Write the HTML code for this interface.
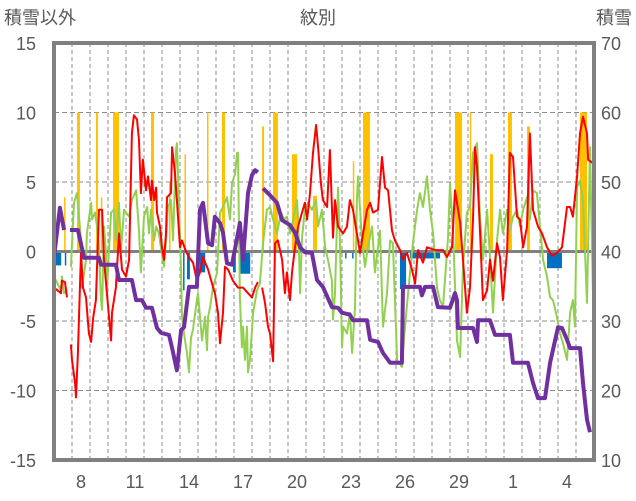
<!DOCTYPE html>
<html><head><meta charset="utf-8"><style>
body{margin:0;background:#fff;}
svg{display:block;font-family:"Liberation Sans","Noto Sans CJK JP",sans-serif;}
</style></head><body>
<svg id="chart" width="636" height="501" viewBox="0 0 636 501">
<text x="4" y="24" font-size="18" fill="#595959">積雪以外</text>
<text x="318" y="24" font-size="18" fill="#595959" text-anchor="middle">紋別</text>
<text x="632" y="24" font-size="18" fill="#595959" text-anchor="end">積雪</text>
<g id="grid"></g>
<g id="bars"></g>
<g id="lines"></g>
<g id="axes"></g>
</svg>
<script>
const xLabels=["8","11","14","17","20","23","26","29","1","4"];
const xLabelIdx=[1,4,7,10,13,16,19,22,25,28];
const leftTicks=[15,10,5,0,-5,-10,-15];
const rightTicks=[70,60,50,40,30,20,10];
const yellowStart=[0.56,1.28,2.33,2.6,3.28,5.39,6.39,7.25,8.5,9.33,11.56,12.17,13.22,14.39,16.6,17.17,22.28,23.1,24.22,25.22,26.28,29.22];
const yellowEnd=[0.6,1.44,2.44,2.65,3.61,5.56,6.45,7.3,8.56,9.5,11.67,12.44,13.5,14.61,16.67,17.56,22.67,23.17,24.39,25.44,26.44,29.61];
const yellowVal=[3.9,10,10,3.9,10,10,5,7,10,10,9,10,7,4,6.5,10,10,10,7,10,9,10];
const blueStart=[0,0.6,7.17,7.39,8.1,9.94,10.33,16.17,16.56,19.22,19.78,27.39];
const blueEnd=[0.4,0.67,7.22,7.55,8.4,10.1,10.9,16.22,16.6,19.56,21.45,28.22];
const blueVal=[-1,-1,-2.8,-2,-1.5,-1.5,-1.6,-0.5,-0.5,-2.7,-0.5,-1.2];
const redSeries=[[0,-2.6],[.39,-3.0],[.44,-2.1],[.61,-2.2],[.72,-3.3],null,[.94,-6.7],[1,-7.8],[1.17,-9.5],[1.22,-10.5],[1.33,-7.3],[1.5,-0.1],[1.61,-2.6],[1.78,-3.3],[1.94,-5.9],[2.06,-6.5],[2.17,-4.8],[2.33,-3.5],[2.5,3.0],[2.67,3.0],[2.78,-0.6],[2.94,-3.0],[3.17,-6.4],[3.22,-4.4],[3.44,-2.6],[3.61,1.3],[3.78,-1.3],[4,-1.8],[4.17,-0.6],[4.33,8.5],[4.44,9.8],[4.61,9.5],[4.72,8.0],[4.83,4.2],[4.94,6.6],[5.11,4.4],[5.22,5.4],[5.39,3.7],[5.44,5.1],[5.56,3.7],[5.67,4.6],[5.72,2.8],[5.89,1.8],[6,0.3],[6.11,-0.6],[6.22,1.3],[6.28,3.9],[6.5,4.2],[6.56,7.5],[6.72,5.6],[6.83,3.7],[7,0.3],[7.11,0.8],[7.33,0],[7.5,-0.4],[7.72,-0.8],[7.94,-2.1],[8.11,-1.5],[8.28,-0.4],[8.56,-1.3],[8.78,-2.3],[8.94,-3.0],[9.11,-4.4],[9.22,-6.6],[9.39,-4.4],[9.5,-1.1],[9.67,-1.3],[9.94,-2.1],[10.22,-2.6],[10.5,-2.6],[10.78,-3.0],[11,-3.3],[11.17,-2.6],[11.33,-2.2],null,[11.56,-2.6],[11.72,-3.7],[11.89,-5.4],[12,-5.9],[12.17,-7.9],[12.28,0.6],[12.44,0.8],[12.67,-0.6],[12.83,-3.0],[12.94,-1.5],[13.11,-3.5],[13.22,-1.5],[13.39,0.3],[13.56,1.8],[13.78,2.8],[13.94,3.5],[14.06,2.3],[14.22,4.2],[14.39,7.1],[14.56,9.1],[14.67,7.5],[14.83,4.9],[14.94,3.7],[15.17,3.2],[15.33,7.3],[15.5,1.0],[15.61,3.7],[15.78,1.8],[16.06,1.3],[16.28,1.8],[16.44,3.7],[16.61,3.0],[16.83,1.3],[17,-0.1],[17.17,1.3],[17.39,3.0],[17.56,3.5],[17.72,2.8],[18,3.0],[18.22,6.8],[18.39,4.6],[18.56,4.4],[18.78,1.5],[18.94,0.8],[19.22,0.1],[19.39,-0.6],[19.61,-0.1],[19.89,-1.3],[20.06,-2.3],[20.22,0.1],[20.5,-0.8],[20.72,0.3],[21.17,0.1],[21.61,0.1],[21.83,-0.4],[22.11,0.3],[22.28,4.4],[22.39,3.5],[22.56,2.1],[22.72,-0.6],[22.94,-4.4],[23.11,-2.6],[23.28,2.3],[23.39,7.5],[23.5,6.1],[23.67,1.3],[23.83,-3.5],[24.06,-2.8],[24.22,-0.6],[24.39,-2.1],[24.61,0.6],[24.78,-0.4],[24.94,-3.5],[25.17,0.1],[25.33,7.1],[25.5,6.8],[25.72,2.5],[25.89,2.3],[26.06,0.3],[26.28,1.8],[26.44,8.5],[26.61,3.0],[26.89,1.8],[27.11,1.3],[27.39,0.3],[27.67,-0.3],[27.94,-0.1],[28.22,0.3],[28.5,3.2],[28.67,3.2],[28.83,2.5],[29.06,5.4],[29.22,8.5],[29.39,9.7],[29.61,8.5],[29.67,6.6],[29.89,6.4],[30,6.4]];
const greenSeries=[[0,-1.8],[.39,-2.8],[.44,-1.8],[.56,-3.0],[.72,-2.8],null,[.94,-1.1],[1.11,3.5],[1.28,4.2],[1.39,2.5],[1.5,0.8],[1.56,-2.6],[1.78,-0.6],[1.83,1.3],[2.06,3.5],[2.11,2.3],[2.28,2.8],[2.39,1.8],[2.5,0.3],[2.61,-3.5],[2.67,-4.2],[2.78,1.8],[2.89,-0.1],[2.94,-3.0],[3.06,0.3],[3.17,2.8],[3.33,3.0],[3.44,0.8],[3.61,3.5],[3.72,0.1],[3.89,3.0],[4,2.8],[4.17,2.5],[4.33,3.7],[4.56,4.4],[4.72,1.5],[4.83,-1.5],[5,2.5],[5.17,3.2],[5.28,1.3],[5.39,3.0],[5.56,0.8],[5.67,1.8],[5.83,1.3],[5.94,0.3],[6.11,-1.1],[6.22,0.8],[6.33,3.2],[6.5,3.7],[6.61,0.8],[6.78,7.3],[6.83,7.8],[6.94,3.7],[7.06,-1.5],[7.11,-4.7],[7.22,-5.9],[7.39,-7.3],[7.5,-8.7],[7.61,-6.2],[7.72,-5.6],[7.94,-3.5],[8,-3.0],[8.11,-4.7],[8.22,-6.4],[8.39,-4.7],[8.5,-7.1],[8.56,-4.7],[8.67,-4.0],[8.83,-2.6],[9.06,-1.5],[9.22,2.8],[9.39,3.2],[9.61,3.9],[9.78,2.3],[9.89,4.9],[10.06,5.6],[10.17,7.1],[10.22,7.1],[10.33,-3.3],[10.44,-6.9],[10.5,-5.4],[10.61,-7.8],[10.72,-5.4],[10.78,-8.7],[10.89,-7.8],[11.06,-4.4],[11.28,-2.8],[11.44,-2.3],[11.61,0.6],[11.83,3.0],[12,3.2],[12.17,2.3],[12.39,1.3],[12.61,2.8],[12.78,2.3],[12.94,2.5],[13.11,1.3],[13.33,2.5],[13.5,3.7],[13.56,2.3],[13.67,-3.0],[13.78,1.0],[13.94,3.0],[14.11,3.5],[14.33,3.0],[14.56,3.7],[14.67,1.8],[14.89,3.0],[15.06,0.3],[15.22,-0.6],[15.44,-2.1],[15.5,-4.9],[15.61,-3.0],[15.78,4.6],[15.89,0.6],[16,-6.9],[16.06,-5.4],[16.28,-5.9],[16.44,-4.4],[16.56,-7.3],[16.72,-4.0],[16.83,3.7],[16.89,5.4],[17.11,0.8],[17.28,-1.1],[17.44,0.3],[17.67,1.8],[17.83,-1.5],[18.11,1.5],[18.28,-5.4],[18.5,-3.0],[18.67,0.8],[18.83,0.6],[19.06,-7.8],[19.33,-8.3],[19.5,-5.4],[19.67,-3.0],[19.94,0.6],[20.17,3.0],[20.33,4.2],[20.5,3.2],[20.72,5.4],[20.89,3.0],[21.06,1.3],[21.28,-2.6],[21.44,-3.5],[21.61,-4.0],[21.89,1.0],[22,4.9],[22.17,1.3],[22.39,-6.4],[22.56,-7.6],[22.72,-1.1],[22.94,2.8],[23.11,3.2],[23.28,7.1],[23.5,7.8],[23.67,2.3],[23.83,-0.6],[24.06,3.0],[24.22,-0.4],[24.39,-4.4],[24.61,0.8],[24.78,3.0],[24.94,1.3],[25.17,3.0],[25.33,1.5],[25.5,2.5],[25.72,3.0],[25.89,1.8],[26.06,3.0],[26.28,3.9],[26.44,2.3],[26.61,4.4],[26.83,4.2],[27,1.8],[27.17,-0.6],[27.39,-1.8],[27.56,-3.3],[27.72,-3.5],[27.94,-4.7],[28.11,-5.9],[28.28,-6.6],[28.5,-7.8],[28.67,-4.4],[28.83,-3.5],[28.94,-5.4],[29.06,4.6],[29.22,5.1],[29.39,3.7],[29.61,-3.7],[29.78,7.5],[29.94,-2.8]];
const snowSeries=[[0,39.2],[.33,46.3],[.56,43.1],null,[.89,43.1],[1.33,43.1],[1.67,39.1],[2.5,39.1],[2.61,38.1],[3.44,38.1],[3.61,35.9],[4.33,35.9],[4.56,33.0],[4.89,33.0],[5.11,31.9],[5.44,31.9],[5.72,29.0],[5.94,28.3],[6.39,28.0],[6.56,26.1],[6.83,22.9],[7.06,28.7],[7.22,29.1],[7.5,34.9],[7.94,34.9],[8.11,46.0],[8.28,47.0],[8.56,41.2],[8.78,40.9],[8.94,45.0],[9.22,44.1],[9.39,42.7],[9.61,38.3],[9.89,38.1],[10.33,44.1],[10.5,38.8],[10.78,48.4],[11,51.0],[11.17,51.7],[11.33,51.4],null,[11.61,49.1],[12,48.1],[12.39,47.0],[12.67,44.5],[13.11,43.8],[13.39,42.7],[13.67,40.6],[13.94,39.9],[14.33,39.8],[14.61,35.9],[14.94,34.9],[15.44,32.0],[15.78,31.9],[16,31.2],[16.44,30.9],[16.61,30.1],[17.39,30.1],[17.56,27.3],[18,27.0],[18.28,25.4],[18.67,24.0],[19.33,24.0],[19.39,34.9],[20.33,34.9],[20.44,33.7],[20.61,34.9],[21.06,34.9],[21.33,32.0],[22,31.9],[22.28,34.0],[22.39,33.0],[22.44,29.0],[23.28,29.0],[23.5,27.0],[23.56,30.1],[24.22,30.1],[24.5,28.0],[25.33,28.0],[25.5,24.0],[26.33,24.0],[26.61,21.1],[26.89,18.9],[27.28,18.9],[27.56,24.0],[28,29.1],[28.22,29.0],[28.5,27.3],[28.67,26.1],[29.22,26.1],[29.39,21.1],[29.61,15.8],[29.78,14.0]];

const NS="http://www.w3.org/2000/svg";
const X0=54,X1=594,Y0=43,Y1=460,DAYS=30;
function xs(t){return X0+(X1-X0)*t/DAYS;}
function yl(v){return Y1-(v+15)/30*(Y1-Y0);}
function yr(v){return Y1-(v-10)/60*(Y1-Y0);}
function mk(tag,attrs,parent){const e=document.createElementNS(NS,tag);for(const k in attrs)e.setAttribute(k,attrs[k]);parent.appendChild(e);return e;}
const grid=document.getElementById('grid'),bars=document.getElementById('bars'),lines=document.getElementById('lines'),axes=document.getElementById('axes');
for(let d=1;d<DAYS;d++){const l=mk('line',{x1:xs(d),x2:xs(d),y1:Y0,y2:Y1,stroke:'#8c8c8c','stroke-width':1,'stroke-dasharray':'4,3'},grid);

}
leftTicks.forEach((v,i)=>{if(v!==0&&Math.abs(v)!==15){const l=mk('line',{x1:X0,x2:X1,y1:yl(v),y2:yl(v),stroke:'#8c8c8c','stroke-width':1,'stroke-dasharray':'5,3'},grid);

}
const t=mk('text',{x:36,y:yl(v)+7,'font-size':18,fill:'#595959','text-anchor':'end'},axes);t.textContent=v;


const r=mk('text',{x:601,y:yr(rightTicks[i])+7,'font-size':18,fill:'#595959'},axes);r.textContent=rightTicks[i];

});
xLabels.forEach((s,i)=>{const t=mk('text',{x:xs(xLabelIdx[i]+0.5),y:488,'font-size':18,fill:'#595959','text-anchor':'middle'},axes);t.textContent=s;

});
function drawBars(st,en,val,color,name){for(let i=0;i<st.length;i++){const xa=xs(st[i]),xb=Math.max(xs(en[i]),xa+1.5);const ya=yl(Math.max(0,val[i])),yb=yl(Math.min(0,val[i]));
const r=mk('rect',{x:xa,y:ya,width:xb-xa,height:yb-ya,fill:color},bars);

}}
drawBars(yellowStart,yellowEnd,yellowVal,'#FFC000','yellow-bar');
drawBars(blueStart,blueEnd,blueVal,'#0070C0','blue-bar');
const z=mk('line',{x1:X0,x2:X1,y1:yl(0),y2:yl(0),stroke:'#808080','stroke-width':3},bars);


function path(series,yf){let d='',pen=false;for(const p of series){if(!p){pen=false;continue;}d+=(pen?'L':'M')+xs(p[0]).toFixed(1)+','+yf(p[1]).toFixed(1);pen=true;}return d;}
const g=mk('path',{d:path(greenSeries,yl),fill:'none',stroke:'#92D050','stroke-width':2,'stroke-linejoin':'round'},lines);


const rd=mk('path',{d:path(redSeries,yl),fill:'none',stroke:'#FF0000','stroke-width':2,'stroke-linejoin':'round'},lines);


const pu=mk('path',{d:path(snowSeries,yr),fill:'none',stroke:'#7030A0','stroke-width':4,'stroke-linejoin':'round'},lines);


const b=mk('rect',{x:X0,y:Y0,width:X1-X0,height:Y1-Y0,fill:'none',stroke:'#808080','stroke-width':4},axes);


</script>
</body></html>
